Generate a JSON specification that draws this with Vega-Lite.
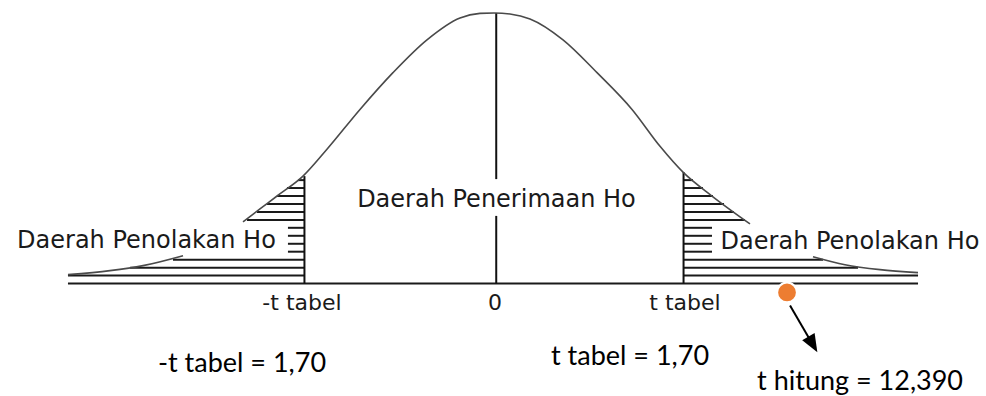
{
  "$schema": "https://vega.github.io/schema/vega-lite/v6.json",
  "width": 986,
  "height": 396,
  "autosize": {"type": "fit", "contains": "padding"},
  "padding": 0,
  "background": "white",
  "config": {"view": {"stroke": null}},
  "encoding": {
    "x": {"field": "t", "type": "quantitative", "scale": {"domain": [-4.4305, 4.4126], "nice": false, "zero": false}, "axis": null},
    "y": {"field": "d", "type": "quantitative", "scale": {"domain": [-0.16324, 0.41912], "nice": false, "zero": false}, "axis": null}
  },
  "layer": [
    {
      "data": {"values": [
        {"t": -1.758, "t2": -1.70, "d": 0.1529},
        {"t": -1.857, "t2": -1.70, "d": 0.1412},
        {"t": -1.946, "t2": -1.70, "d": 0.1294},
        {"t": -2.036, "t2": -1.70, "d": 0.1176},
        {"t": -2.126, "t2": -1.70, "d": 0.1059},
        {"t": -2.215, "t2": -1.70, "d": 0.0941},
        {"t": -1.848, "t2": -1.70, "d": 0.0824},
        {"t": -1.848, "t2": -1.70, "d": 0.0706},
        {"t": -1.848, "t2": -1.70, "d": 0.0588},
        {"t": -1.848, "t2": -1.70, "d": 0.0471},
        {"t": -2.879, "t2": -1.70, "d": 0.0353},
        {"t": -3.264, "t2": -1.70, "d": 0.0235},
        {"t": -3.821, "t2": -1.70, "d": 0.0118},
        {"t": 1.70, "t2": 1.785, "d": 0.1529},
        {"t": 1.70, "t2": 1.874, "d": 0.1412},
        {"t": 1.70, "t2": 1.964, "d": 0.1294},
        {"t": 1.70, "t2": 2.063, "d": 0.1176},
        {"t": 1.70, "t2": 2.152, "d": 0.1059},
        {"t": 1.70, "t2": 2.251, "d": 0.0941},
        {"t": 1.70, "t2": 1.955, "d": 0.0824},
        {"t": 1.70, "t2": 1.955, "d": 0.0706},
        {"t": 1.70, "t2": 1.955, "d": 0.0588},
        {"t": 1.70, "t2": 1.955, "d": 0.0471},
        {"t": 1.70, "t2": 2.951, "d": 0.0353},
        {"t": 1.70, "t2": 3.265, "d": 0.0235},
        {"t": 1.70, "t2": 3.803, "d": 0.0118},
        {"t": -3.821, "t2": 3.803, "d": 0}
      ]},
      "mark": {"type": "rule", "color": "#1a1a1a", "strokeWidth": 2},
      "encoding": {"x2": {"field": "t2"}}
    },
    {
      "data": {"values": [
        {"t": -1.70, "d": 0, "d2": 0.1588},
        {"t": 1.70, "d": 0, "d2": 0.1647},
        {"t": 0.02, "d": 0.1544, "d2": 0.4},
        {"t": 0.02, "d": 0, "d2": 0.1}
      ]},
      "mark": {"type": "rule", "color": "#111111", "strokeWidth": 2},
      "encoding": {"y2": {"field": "d2"}}
    },
    {
      "data": {"values": [
        {"seg": "main", "t": -2.251, "d": 0.0912},
        {"seg": "main", "t": -2.099, "d": 0.1103},
        {"seg": "main", "t": -1.946, "d": 0.1294},
        {"seg": "main", "t": -1.713, "d": 0.1588},
        {"seg": "main", "t": -1.498, "d": 0.1985},
        {"seg": "main", "t": -1.202, "d": 0.2574},
        {"seg": "main", "t": -0.906, "d": 0.3118},
        {"seg": "main", "t": -0.601, "d": 0.3603},
        {"seg": "main", "t": -0.305, "d": 0.3926},
        {"seg": "main", "t": -0.126, "d": 0.3993},
        {"seg": "main", "t": 0.0, "d": 0.4},
        {"seg": "main", "t": 0.1435, "d": 0.3985},
        {"seg": "main", "t": 0.3229, "d": 0.3912},
        {"seg": "main", "t": 0.619, "d": 0.3603},
        {"seg": "main", "t": 0.924, "d": 0.3118},
        {"seg": "main", "t": 1.238, "d": 0.2574},
        {"seg": "main", "t": 1.489, "d": 0.2029},
        {"seg": "main", "t": 1.695, "d": 0.1647},
        {"seg": "main", "t": 1.955, "d": 0.1294},
        {"seg": "main", "t": 2.296, "d": 0.0882},
        {"seg": "left", "t": -3.821, "d": 0.0132},
        {"seg": "left", "t": -3.444, "d": 0.0191},
        {"seg": "left", "t": -3.148, "d": 0.0265},
        {"seg": "left", "t": -2.789, "d": 0.0412},
        {"seg": "right", "t": 2.861, "d": 0.0397},
        {"seg": "right", "t": 3.148, "d": 0.0279},
        {"seg": "right", "t": 3.462, "d": 0.0206},
        {"seg": "right", "t": 3.803, "d": 0.0162}
      ]},
      "mark": {"type": "line", "color": "#4a4a4a", "strokeWidth": 1.6, "interpolate": "monotone"},
      "encoding": {"detail": {"field": "seg"}}
    },
    {
      "data": {"values": [
        {"t": -3.117, "d": 0.0529, "label": "Daerah Penolakan Ho"},
        {"t": 0.022, "d": 0.1132, "label": "Daerah Penerimaan Ho"},
        {"t": 3.193, "d": 0.0515, "label": "Daerah Penolakan Ho"}
      ]},
      "mark": {"type": "text", "font": "DejaVu Sans", "fontSize": 24, "align": "center", "baseline": "alphabetic", "color": "#1a1a1a"},
      "encoding": {"text": {"field": "label"}}
    },
    {
      "data": {"values": [
        {"t": -1.722, "d": -0.0397, "label": "-t tabel"},
        {"t": 0.009, "d": -0.0397, "label": "0"},
        {"t": 1.713, "d": -0.0397, "label": "t tabel"}
      ]},
      "mark": {"type": "text", "font": "DejaVu Sans", "fontSize": 22, "align": "center", "baseline": "alphabetic", "color": "#1a1a1a"},
      "encoding": {"text": {"field": "label"}}
    },
    {
      "data": {"values": [
        {"t": -2.26, "d": -0.1309, "label": "-t tabel = 1,70"},
        {"t": 1.22, "d": -0.1206, "label": "t tabel = 1,70"},
        {"t": 3.283, "d": -0.1574, "label": "t hitung = 12,390"}
      ]},
      "mark": {"type": "text", "font": "Lato", "fontSize": 27, "align": "center", "baseline": "alphabetic", "color": "#000000"},
      "encoding": {"text": {"field": "label"}}
    },
    {
      "data": {"values": [{"t": 2.628, "d": -0.0132}]},
      "mark": {"type": "point", "filled": true, "shape": "circle", "size": 390, "color": "#ED7D31", "stroke": "white", "strokeWidth": 2, "opacity": 1}
    },
    {
      "data": {"values": [{"t": 2.655, "d": -0.0324, "t2": 2.852, "d2": -0.0882}]},
      "mark": {"type": "rule", "color": "#000000", "strokeWidth": 2},
      "encoding": {"x2": {"field": "t2"}, "y2": {"field": "d2"}}
    },
    {
      "data": {"values": [{"t": 2.86, "d": -0.0899}]},
      "mark": {"type": "point", "filled": true, "shape": "M0,-1L0.8,1L-0.8,1Z", "size": 320, "angle": 150, "color": "#000000", "opacity": 1}
    }
  ]
}
